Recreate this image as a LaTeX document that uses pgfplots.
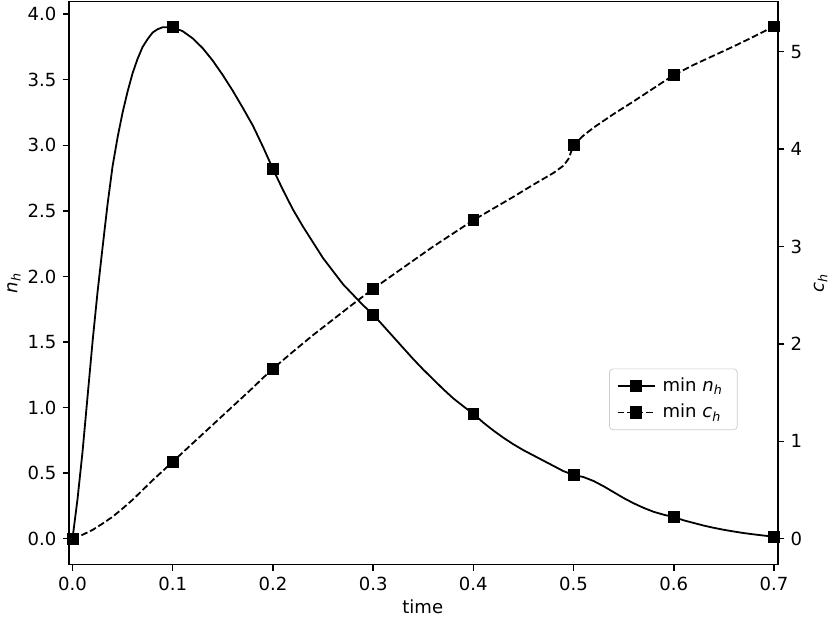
\documentclass[border=0pt]{standalone}
\usepackage{fontspec}
\setmainfont{DejaVu Sans}
\usepackage{pgfplots}
\pgfplotsset{compat=1.18}
\usepackage{pgfplotstable}

\newcommand{\nh}{{\itshape n}\textsubscript{\itshape h}}
\newcommand{\ch}{{\itshape c}\textsubscript{\itshape h}}

\pgfplotstableread{
x y
0 0
0.005 0.30
0.01 0.66
0.015 1.08
0.02 1.50
0.025 1.88
0.03 2.22
0.035 2.55
0.04 2.84
0.045 3.06
0.05 3.25
0.055 3.41
0.06 3.55
0.065 3.66
0.07 3.75
0.075 3.81
0.08 3.86
0.085 3.885
0.09 3.90
0.1 3.90
0.11 3.87
0.12 3.815
0.13 3.74
0.14 3.645
0.15 3.535
0.16 3.415
0.17 3.285
0.18 3.15
0.19 2.99
0.2 2.82
0.21 2.66
0.22 2.51
0.23 2.38
0.24 2.26
0.25 2.14
0.26 2.04
0.27 1.94
0.28 1.86
0.29 1.78
0.30 1.71
0.31 1.625
0.32 1.54
0.33 1.455
0.34 1.37
0.35 1.29
0.36 1.215
0.37 1.14
0.38 1.07
0.39 1.01
0.4 0.953
0.41 0.885
0.42 0.825
0.43 0.77
0.44 0.72
0.45 0.675
0.46 0.635
0.47 0.595
0.48 0.555
0.49 0.515
0.5 0.487
0.51 0.47
0.52 0.44
0.53 0.40
0.54 0.355
0.55 0.31
0.56 0.27
0.57 0.235
0.58 0.205
0.59 0.183
0.6 0.165
0.61 0.14
0.62 0.12
0.63 0.10
0.64 0.083
0.65 0.068
0.66 0.055
0.67 0.043
0.68 0.033
0.69 0.024
0.7 0.016
}\nhline

\pgfplotstableread{
x y
0 0
0.1 3.90
0.2 2.82
0.3 1.71
0.4 0.953
0.5 0.487
0.6 0.165
0.7 0.016
}\nhmarks

\pgfplotstableread{
x y
0 0
0.01 0.04
0.02 0.09
0.03 0.155
0.04 0.225
0.05 0.31
0.06 0.40
0.07 0.50
0.08 0.60
0.09 0.695
0.1 0.79
0.11 0.885
0.12 0.98
0.13 1.075
0.14 1.17
0.15 1.265
0.16 1.36
0.17 1.455
0.18 1.55
0.19 1.65
0.2 1.745
0.22 1.92
0.24 2.09
0.26 2.25
0.28 2.41
0.3 2.565
0.32 2.71
0.34 2.855
0.36 3.0
0.38 3.135
0.4 3.27
0.42 3.39
0.44 3.51
0.46 3.635
0.48 3.755
0.49 3.83
0.495 3.90
0.5 4.04
0.51 4.14
0.52 4.22
0.54 4.36
0.56 4.49
0.58 4.625
0.6 4.76
0.62 4.865
0.64 4.96
0.66 5.055
0.68 5.155
0.7 5.26
}\chline

\pgfplotstableread{
x y
0 0
0.1 0.79
0.2 1.745
0.3 2.565
0.4 3.27
0.5 4.04
0.6 4.76
0.7 5.26
}\chmarks

\begin{document}
\fontsize{10}{12}\selectfont
\begin{tikzpicture}
\pgfplotsset{
  common/.style={
    scale only axis, width=392.7pt, height=311.6pt,
    xmin=-0.0035, xmax=0.704,
    tick align=outside, major tick length=3.5pt,
    axis line style={line width=0.8pt},
    every tick/.style={black, line width=0.8pt},
    tick label style={font=\fontsize{10}{12}\selectfont},
    label style={font=\fontsize{10}{12}\selectfont},
    /pgf/number format/assume math mode=true,
  },
  dashstyle/.style={dash pattern=on 3.7pt off 1.6pt},
}
\begin{axis}[common,
  ymin=-0.195, ymax=4.095,
  xtick={0,0.1,...,0.7}, ytick={0,0.5,...,4.0},
  xtick pos=bottom, ytick pos=left,
  xticklabel style={/pgf/number format/.cd, fixed, fixed zerofill, precision=1},
  yticklabel style={/pgf/number format/.cd, fixed, fixed zerofill, precision=1},
  xlabel={time}, ylabel={\nh},
  xlabel style={at={(axis description cs:0.499,-0.076)}, anchor=center},
  ylabel style={at={(axis description cs:-0.0776,0.5)}, anchor=center},
]
\addplot[black, line width=1pt, no marks] table {\nhline};
\addplot[black, only marks, mark=square*, mark size=3pt] table {\nhmarks};
\coordinate (bl) at (rel axis cs:0,0);
\coordinate (tr) at (rel axis cs:1,1);
\end{axis}
\begin{axis}[common,
  ymin=-0.2625, ymax=5.5125,
  axis x line=none, axis y line*=right,
  ytick={0,1,2,3,4,5},
  ylabel={\ch},
  ylabel style={at={(axis description cs:1.06,0.5)}, anchor=center},
  legend style={at={(0.943,0.348)}, anchor=north east, draw=black!20,
    rounded corners=2pt, fill=white, font=\fontsize{10}{12}\selectfont,
    inner xsep=4pt, inner ysep=3pt, row sep=1.5pt,
    nodes={inner xsep=4pt}},
  legend cell align=left,
  legend image code/.code={\draw[mark repeat=2,mark phase=2] plot coordinates {(0cm,0cm) (0.36cm,0cm) (0.72cm,0cm)};},
]
\addplot[black, line width=1pt, dashstyle, no marks, forget plot] table {\chline};
\addplot[black, only marks, mark=square*, mark size=3pt, forget plot] table {\chmarks};
\addlegendimage{black, line width=1pt, mark=square*, mark size=3pt}
\addlegendentry{min \nh}
\addlegendimage{black, line width=1pt, dashstyle, mark=square*, mark size=3pt, mark options={solid}}
\addlegendentry{min \ch}
\end{axis}
\pgfresetboundingbox
\path ([shift={(-38.2pt,-32.5pt)}]bl) rectangle ([shift={(28.8pt,0.94pt)}]tr);
\end{tikzpicture}
\end{document}
